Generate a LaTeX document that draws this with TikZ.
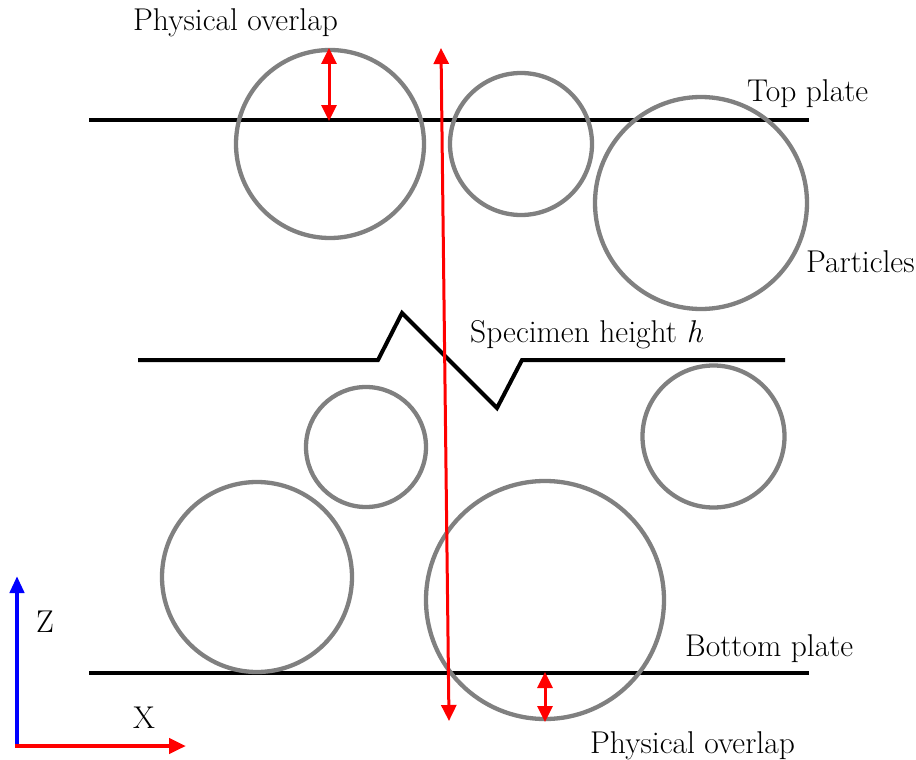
\documentclass[tikz,border=0pt]{standalone}
\usetikzlibrary{arrows.meta}
\begin{document}
\begin{tikzpicture}[x=1pt,y=-1pt,
  plate/.style={line width=4.5pt},
  particle/.style={draw=gray,line width=4.3pt},
  redarr/.style={draw=red,line width=3pt,{Triangle[width=15pt,length=16pt]}-{Triangle[width=15pt,length=16pt]}},
  lbl/.style={inner sep=0pt,anchor=base west,font=\fontsize{31.5}{36}\selectfont}]
\useasboundingbox (0,0) rectangle (916,760);
% plates
\coordinate (tpL) at (89,120); \coordinate (tpR) at (809,120);
\coordinate (bpL) at (89,673); \coordinate (bpR) at (809,673);
\draw[plate] (tpL) -- (tpR);
\draw[plate] (bpL) -- (bpR);
% particles
\draw[particle] (330,144) circle (94);
\draw[particle] (521,144) circle (71);
\draw[particle] (701,203) circle (106);
\draw[particle] (366,447) circle (60);
\draw[particle] (713.5,436.5) circle (71);
\draw[particle] (257,577) circle (95);
\draw[particle] (545,600) circle (119);
% break line
\coordinate (b1) at (138,360); \coordinate (b2) at (378,360);
\coordinate (b3) at (402,313); \coordinate (b4) at (497,408);
\coordinate (b5) at (522,360); \coordinate (b6) at (785,360);
\draw[line width=4pt,line join=miter] (b1) -- (b2) -- (b3) -- (b4) -- (b5) -- (b6);
% red arrows
\coordinate (hT) at (441,48); \coordinate (hB) at (449,721);
\draw[redarr] (hT) -- (hB);
\coordinate (oT1) at (329,48); \coordinate (oT2) at (329,121);
\draw[redarr] (oT1) -- (oT2);
\coordinate (oB1) at (545,672); \coordinate (oB2) at (545,722);
\draw[redarr] (oB1) -- (oB2);
% axes
\coordinate (O) at (17,746); \coordinate (Zt) at (17,576); \coordinate (Xt) at (186,746);
\draw[blue,line width=4.5pt,-{Triangle[width=14pt,length=17pt]}] (O) -- (Zt);
\draw[red,line width=4.5pt,-{Triangle[width=15pt,length=17pt]}] ([xshift=-2pt]O) -- (Xt);
% labels
\node[lbl] (pov1) at (133,31) {Physical overlap};
\node[lbl] (tp) at (747,102) {Top plate};
\node[lbl] (part) at (806,272) {Particles};
\node[lbl] (sh) at (470,342) {Specimen height \textit{h}};
\node[lbl] (bp) at (685,656) {Bottom plate};
\node[lbl] (pov2) at (590,753) {Physical overlap};
\node[lbl] (zl) at (36,632) {Z};
\node[lbl] (xl) at (133,728) {X};
\end{tikzpicture}
\end{document}
